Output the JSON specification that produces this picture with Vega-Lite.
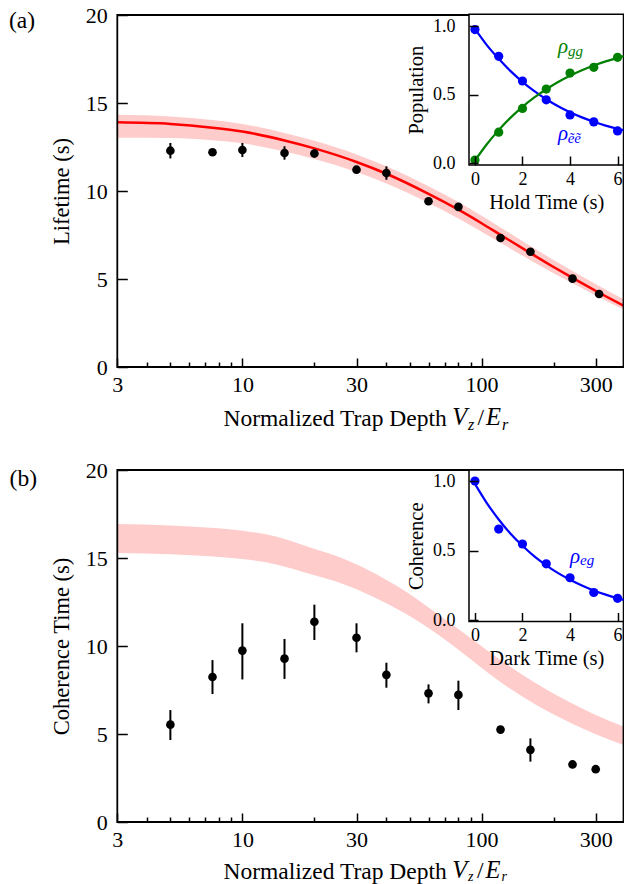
{
  "$schema": "https://vega.github.io/schema/vega-lite/v6.json",
  "width": 624,
  "height": 884,
  "autosize": {"type": "none"},
  "padding": 0,
  "background": "white",
  "config": {
    "view": {"stroke": null},
    "font": "Liberation Serif",
    "axis": {
      "labelFont": "Liberation Serif",
      "titleFont": "Liberation Serif",
      "labelColor": "black",
      "titleColor": "black",
      "tickColor": "black",
      "domainColor": "black",
      "titleFontWeight": "normal",
      "grid": false,
      "tickWidth": 1.5,
      "labelFlush": false,
      "labelOverlap": false,
      "labelBound": false
    },
    "text": {"font": "Liberation Serif", "color": "black"}
  },
  "datasets": {
    "aPts": [
      {"V": 5, "tau": 12.29, "lo": 11.85, "hi": 12.73},
      {"V": 7.5, "tau": 12.2, "lo": 12.05, "hi": 12.35},
      {"V": 10, "tau": 12.33, "lo": 11.93, "hi": 12.73},
      {"V": 15, "tau": 12.16, "lo": 11.78, "hi": 12.54},
      {"V": 20, "tau": 12.13, "lo": 11.9, "hi": 12.36},
      {"V": 30, "tau": 11.21, "lo": 11.07, "hi": 11.35},
      {"V": 40, "tau": 11.02, "lo": 10.64, "hi": 11.4},
      {"V": 60, "tau": 9.42, "lo": 9.3, "hi": 9.54},
      {"V": 80, "tau": 9.1, "lo": 8.98, "hi": 9.22},
      {"V": 120, "tau": 7.33, "lo": 7.21, "hi": 7.45},
      {"V": 160, "tau": 6.55, "lo": 6.43, "hi": 6.67},
      {"V": 240, "tau": 5.02, "lo": 4.92, "hi": 5.12},
      {"V": 310, "tau": 4.15, "lo": 4.05, "hi": 4.25}
    ],
    "aCurve": [
      {"V": 3, "tau": 13.9}, {"V": 5, "tau": 13.81}, {"V": 7.5, "tau": 13.6},
      {"V": 10, "tau": 13.38}, {"V": 15, "tau": 12.87}, {"V": 20, "tau": 12.42},
      {"V": 30, "tau": 11.65}, {"V": 40, "tau": 10.98}, {"V": 60, "tau": 9.84},
      {"V": 80, "tau": 8.94}, {"V": 100, "tau": 8.17}, {"V": 120, "tau": 7.51},
      {"V": 160, "tau": 6.47}, {"V": 200, "tau": 5.68}, {"V": 240, "tau": 5.06},
      {"V": 310, "tau": 4.22}, {"V": 392, "tau": 3.48}
    ],
    "aBand": [
      {"V": 3, "lo": 13.03, "hi": 14.33}, {"V": 5, "lo": 13.01, "hi": 14.24},
      {"V": 7.5, "lo": 12.88, "hi": 14.03}, {"V": 10, "lo": 12.71, "hi": 13.81},
      {"V": 15, "lo": 12.25, "hi": 13.3}, {"V": 20, "lo": 11.82, "hi": 12.85},
      {"V": 30, "lo": 11.08, "hi": 12.08}, {"V": 40, "lo": 10.43, "hi": 11.41},
      {"V": 60, "lo": 9.32, "hi": 10.27}, {"V": 80, "lo": 8.44, "hi": 9.37},
      {"V": 100, "lo": 7.69, "hi": 8.59}, {"V": 120, "lo": 7.06, "hi": 7.93},
      {"V": 160, "lo": 6.07, "hi": 6.88}, {"V": 200, "lo": 5.33, "hi": 6.08},
      {"V": 240, "lo": 4.76, "hi": 5.45}, {"V": 310, "lo": 3.97, "hi": 4.6},
      {"V": 392, "lo": 3.28, "hi": 3.85}
    ],
    "bPts": [
      {"V": 5, "tau": 5.53, "lo": 4.66, "hi": 6.36},
      {"V": 7.5, "tau": 8.24, "lo": 7.27, "hi": 9.2},
      {"V": 10, "tau": 9.74, "lo": 8.1, "hi": 11.29},
      {"V": 15, "tau": 9.28, "lo": 8.13, "hi": 10.4},
      {"V": 20, "tau": 11.38, "lo": 10.34, "hi": 12.35},
      {"V": 30, "tau": 10.47, "lo": 9.64, "hi": 11.29},
      {"V": 40, "tau": 8.36, "lo": 7.63, "hi": 9.05},
      {"V": 60, "tau": 7.31, "lo": 6.74, "hi": 7.82},
      {"V": 80, "tau": 7.22, "lo": 6.36, "hi": 8.03},
      {"V": 120, "tau": 5.25, "lo": 5.1, "hi": 5.4},
      {"V": 160, "tau": 4.1, "lo": 3.43, "hi": 4.75},
      {"V": 240, "tau": 3.27, "lo": 3.15, "hi": 3.4},
      {"V": 300, "tau": 3.0, "lo": 2.9, "hi": 3.1}
    ],
    "bBand": [
      {"V": 3, "lo": 15.29, "hi": 16.93}, {"V": 5, "lo": 15.22, "hi": 16.85},
      {"V": 7.33, "lo": 15.1, "hi": 16.72}, {"V": 10, "lo": 14.94, "hi": 16.55},
      {"V": 13.7, "lo": 14.65, "hi": 16.23}, {"V": 19.2, "lo": 14.09, "hi": 15.6},
      {"V": 26, "lo": 13.55, "hi": 15.0}, {"V": 34.3, "lo": 12.87, "hi": 14.25},
      {"V": 48, "lo": 11.84, "hi": 13.11}, {"V": 65.2, "lo": 10.68, "hi": 11.83},
      {"V": 90, "lo": 9.25, "hi": 10.45}, {"V": 124, "lo": 7.81, "hi": 9.06},
      {"V": 170, "lo": 6.63, "hi": 7.85}, {"V": 236, "lo": 5.63, "hi": 6.77},
      {"V": 300, "lo": 4.99, "hi": 6.08}, {"V": 392, "lo": 4.38, "hi": 5.42}
    ],
    "insA": [
      {"t": 0, "pop": 0.975, "s": "ee"}, {"t": 1, "pop": 0.78, "s": "ee"},
      {"t": 2, "pop": 0.6, "s": "ee"}, {"t": 3, "pop": 0.463, "s": "ee"},
      {"t": 4, "pop": 0.353, "s": "ee"}, {"t": 5, "pop": 0.302, "s": "ee"},
      {"t": 6, "pop": 0.236, "s": "ee"},
      {"t": 0, "pop": 0.024, "s": "gg"}, {"t": 1, "pop": 0.227, "s": "gg"},
      {"t": 2, "pop": 0.4, "s": "gg"}, {"t": 3, "pop": 0.541, "s": "gg"},
      {"t": 4, "pop": 0.658, "s": "gg"}, {"t": 5, "pop": 0.7, "s": "gg"},
      {"t": 6, "pop": 0.773, "s": "gg"}
    ],
    "insACurve": [
      {"t": 0, "pop": 0.98, "s": "ee"}, {"t": 0.5, "pop": 0.862, "s": "ee"},
      {"t": 1, "pop": 0.762, "s": "ee"}, {"t": 1.5, "pop": 0.672, "s": "ee"},
      {"t": 2, "pop": 0.594, "s": "ee"}, {"t": 2.5, "pop": 0.526, "s": "ee"},
      {"t": 3, "pop": 0.467, "s": "ee"}, {"t": 3.5, "pop": 0.416, "s": "ee"},
      {"t": 4, "pop": 0.372, "s": "ee"}, {"t": 4.5, "pop": 0.335, "s": "ee"},
      {"t": 5, "pop": 0.303, "s": "ee"}, {"t": 5.5, "pop": 0.275, "s": "ee"},
      {"t": 6, "pop": 0.251, "s": "ee"}, {"t": 6.25, "pop": 0.241, "s": "ee"},
      {"t": 0, "pop": 0.02, "s": "gg"}, {"t": 0.5, "pop": 0.139, "s": "gg"},
      {"t": 1, "pop": 0.242, "s": "gg"}, {"t": 1.5, "pop": 0.333, "s": "gg"},
      {"t": 2, "pop": 0.412, "s": "gg"}, {"t": 2.5, "pop": 0.48, "s": "gg"},
      {"t": 3, "pop": 0.54, "s": "gg"}, {"t": 3.5, "pop": 0.593, "s": "gg"},
      {"t": 4, "pop": 0.638, "s": "gg"}, {"t": 4.5, "pop": 0.678, "s": "gg"},
      {"t": 5, "pop": 0.713, "s": "gg"}, {"t": 5.5, "pop": 0.743, "s": "gg"},
      {"t": 6, "pop": 0.769, "s": "gg"}, {"t": 6.25, "pop": 0.781, "s": "gg"}
    ],
    "insB": [
      {"t": 0, "coh": 1.0}, {"t": 1, "coh": 0.655}, {"t": 2, "coh": 0.548},
      {"t": 3, "coh": 0.406}, {"t": 4, "coh": 0.306}, {"t": 5, "coh": 0.2},
      {"t": 6, "coh": 0.158}
    ],
    "insBCurve": [
      {"t": 0, "coh": 0.98}, {"t": 0.5, "coh": 0.842}, {"t": 1, "coh": 0.724},
      {"t": 1.5, "coh": 0.622}, {"t": 2, "coh": 0.535}, {"t": 2.5, "coh": 0.459},
      {"t": 3, "coh": 0.395}, {"t": 3.5, "coh": 0.339}, {"t": 4, "coh": 0.292},
      {"t": 4.5, "coh": 0.251}, {"t": 5, "coh": 0.215}, {"t": 5.5, "coh": 0.185},
      {"t": 6, "coh": 0.159}, {"t": 6.25, "coh": 0.147}
    ],
    "one": [{"k": 1}]
  },
  "layer": [
    {
      "layer": [
        {
          "data": {"name": "aBand"},
          "mark": {"type": "area", "color": "#ffcccc", "interpolate": "monotone"},
          "encoding": {
            "x": {"field": "V", "type": "quantitative",
              "scale": {"type": "log", "domain": [3, 392], "range": [117.3, 623.5], "nice": false},
              "axis": {"orient": "bottom", "offset": -517, "values": [3, 10, 30, 100, 300], "format": "d",
                "tickSize": -9, "labelPadding": 16, "domain": false, "labelFontSize": 22,
                "title": "Normalized Trap Depth", "titleFontSize": 23.5, "titleX": 223, "titleY": 58,
                "titleAlign": "left", "titleBaseline": "alphabetic", "titleAnchor": "start"}},
            "y": {"field": "lo", "type": "quantitative",
              "scale": {"domain": [0, 20], "range": [367, 15], "nice": false, "zero": false},
              "axis": {"orient": "left", "offset": -117.3, "values": [0, 5, 10, 15, 20],
                "tickSize": -10, "labelPadding": 20, "domain": false, "labelFontSize": 22,
                "title": "Lifetime (s)", "titleFontSize": 22.5, "titlePadding": 12}},
            "y2": {"field": "hi"}
          }
        },
        {
          "data": {"name": "aCurve"},
          "mark": {"type": "line", "color": "#ff0000", "strokeWidth": 2.5, "interpolate": "monotone"},
          "encoding": {
            "x": {"field": "V", "type": "quantitative"},
            "y": {"field": "tau", "type": "quantitative"}
          }
        },
        {
          "data": {"name": "aPts"},
          "mark": {"type": "rule", "color": "black", "strokeWidth": 2},
          "encoding": {
            "x": {"field": "V", "type": "quantitative"},
            "y": {"field": "lo", "type": "quantitative"},
            "y2": {"field": "hi"}
          }
        },
        {
          "data": {"name": "aPts"},
          "mark": {"type": "point", "filled": true, "color": "black", "opacity": 1, "size": 75},
          "encoding": {
            "x": {"field": "V", "type": "quantitative"},
            "y": {"field": "tau", "type": "quantitative"}
          }
        }
      ]
    },
    {
      "data": {"name": "one"},
      "layer": [
        {
          "mark": {"type": "rect", "fillOpacity": 0, "stroke": "black", "strokeWidth": 1.8},
          "encoding": {
            "x": {"datum": 3, "type": "quantitative",
              "scale": {"type": "log", "domain": [3, 392], "range": [117.3, 623.5], "nice": false},
              "axis": {"orient": "bottom", "offset": -517, "values": [4, 5, 6, 7, 8, 9, 20, 40, 50, 60, 70, 80, 90, 200],
                "tickSize": -5, "labels": false, "domain": false, "title": null}},
            "x2": {"datum": 392},
            "y": {"datum": 0, "type": "quantitative",
              "scale": {"domain": [0, 20], "range": [367, 15], "nice": false, "zero": false}, "axis": null},
            "y2": {"datum": 20}
          }
        },
        {
          "mark": {"type": "text", "text": "(a)", "fontSize": 23.5, "align": "center", "baseline": "alphabetic", "dx": -95.3, "dy": 13},
          "encoding": {"x": {"datum": 3, "type": "quantitative"}, "y": {"datum": 20, "type": "quantitative"}}
        },
        {
          "mark": {"type": "text", "text": "V", "fontSize": 24.5, "fontStyle": "italic", "align": "left", "baseline": "alphabetic", "dx": 335, "dy": 58},
          "encoding": {"x": {"datum": 3, "type": "quantitative"}, "y": {"datum": 0, "type": "quantitative"}}
        },
        {
          "mark": {"type": "text", "text": "z", "fontSize": 16, "fontStyle": "italic", "align": "left", "baseline": "alphabetic", "dx": 350.7, "dy": 62.5},
          "encoding": {"x": {"datum": 3, "type": "quantitative"}, "y": {"datum": 0, "type": "quantitative"}}
        },
        {
          "mark": {"type": "text", "text": "/", "fontSize": 23.5, "align": "left", "baseline": "alphabetic", "dx": 360.2, "dy": 58},
          "encoding": {"x": {"datum": 3, "type": "quantitative"}, "y": {"datum": 0, "type": "quantitative"}}
        },
        {
          "mark": {"type": "text", "text": "E", "fontSize": 24.5, "fontStyle": "italic", "align": "left", "baseline": "alphabetic", "dx": 368.7, "dy": 58},
          "encoding": {"x": {"datum": 3, "type": "quantitative"}, "y": {"datum": 0, "type": "quantitative"}}
        },
        {
          "mark": {"type": "text", "text": "r", "fontSize": 16, "fontStyle": "italic", "align": "left", "baseline": "alphabetic", "dx": 384.7, "dy": 62.5},
          "encoding": {"x": {"datum": 3, "type": "quantitative"}, "y": {"datum": 0, "type": "quantitative"}}
        }
      ]
    },
    {
      "layer": [
        {
          "data": {"name": "bBand"},
          "mark": {"type": "area", "color": "#ffcccc", "interpolate": "monotone"},
          "encoding": {
            "x": {"field": "V", "type": "quantitative",
              "scale": {"type": "log", "domain": [3, 392], "range": [117.3, 623.5], "nice": false},
              "axis": {"orient": "bottom", "offset": -62, "values": [3, 10, 30, 100, 300], "format": "d",
                "tickSize": -9, "labelPadding": 16, "domain": false, "labelFontSize": 22,
                "title": "Normalized Trap Depth", "titleFontSize": 23.5, "titleX": 223, "titleY": 56,
                "titleAlign": "left", "titleBaseline": "alphabetic", "titleAnchor": "start"}},
            "y": {"field": "lo", "type": "quantitative",
              "scale": {"domain": [0, 20], "range": [822, 470], "nice": false, "zero": false},
              "axis": {"orient": "left", "offset": -117.3, "values": [0, 5, 10, 15, 20],
                "tickSize": -10, "labelPadding": 20, "domain": false, "labelFontSize": 22,
                "title": "Coherence Time (s)", "titleFontSize": 22.5, "titlePadding": 12}},
            "y2": {"field": "hi"}
          }
        },
        {
          "data": {"name": "bPts"},
          "mark": {"type": "rule", "color": "black", "strokeWidth": 2},
          "encoding": {
            "x": {"field": "V", "type": "quantitative"},
            "y": {"field": "lo", "type": "quantitative"},
            "y2": {"field": "hi"}
          }
        },
        {
          "data": {"name": "bPts"},
          "mark": {"type": "point", "filled": true, "color": "black", "opacity": 1, "size": 75},
          "encoding": {
            "x": {"field": "V", "type": "quantitative"},
            "y": {"field": "tau", "type": "quantitative"}
          }
        }
      ]
    },
    {
      "data": {"name": "one"},
      "layer": [
        {
          "mark": {"type": "rect", "fillOpacity": 0, "stroke": "black", "strokeWidth": 1.8},
          "encoding": {
            "x": {"datum": 3, "type": "quantitative",
              "scale": {"type": "log", "domain": [3, 392], "range": [117.3, 623.5], "nice": false},
              "axis": {"orient": "bottom", "offset": -62, "values": [4, 5, 6, 7, 8, 9, 20, 40, 50, 60, 70, 80, 90, 200],
                "tickSize": -5, "labels": false, "domain": false, "title": null}},
            "x2": {"datum": 392},
            "y": {"datum": 0, "type": "quantitative",
              "scale": {"domain": [0, 20], "range": [822, 470], "nice": false, "zero": false}, "axis": null},
            "y2": {"datum": 20}
          }
        },
        {
          "mark": {"type": "text", "text": "(b)", "fontSize": 23.5, "align": "center", "baseline": "alphabetic", "dx": -94, "dy": 15.5},
          "encoding": {"x": {"datum": 3, "type": "quantitative"}, "y": {"datum": 20, "type": "quantitative"}}
        },
        {
          "mark": {"type": "text", "text": "V", "fontSize": 24.5, "fontStyle": "italic", "align": "left", "baseline": "alphabetic", "dx": 335, "dy": 56},
          "encoding": {"x": {"datum": 3, "type": "quantitative"}, "y": {"datum": 0, "type": "quantitative"}}
        },
        {
          "mark": {"type": "text", "text": "z", "fontSize": 14, "fontStyle": "italic", "align": "left", "baseline": "alphabetic", "dx": 350.7, "dy": 58.5},
          "encoding": {"x": {"datum": 3, "type": "quantitative"}, "y": {"datum": 0, "type": "quantitative"}}
        },
        {
          "mark": {"type": "text", "text": "/", "fontSize": 23.5, "align": "left", "baseline": "alphabetic", "dx": 359.7, "dy": 56},
          "encoding": {"x": {"datum": 3, "type": "quantitative"}, "y": {"datum": 0, "type": "quantitative"}}
        },
        {
          "mark": {"type": "text", "text": "E", "fontSize": 24.5, "fontStyle": "italic", "align": "left", "baseline": "alphabetic", "dx": 368.2, "dy": 56},
          "encoding": {"x": {"datum": 3, "type": "quantitative"}, "y": {"datum": 0, "type": "quantitative"}}
        },
        {
          "mark": {"type": "text", "text": "r", "fontSize": 14, "fontStyle": "italic", "align": "left", "baseline": "alphabetic", "dx": 384.2, "dy": 58.5},
          "encoding": {"x": {"datum": 3, "type": "quantitative"}, "y": {"datum": 0, "type": "quantitative"}}
        }
      ]
    },
    {
      "layer": [
        {
          "data": {"name": "one"},
          "mark": {"type": "rect", "fill": "white", "stroke": "black", "strokeWidth": 1.5},
          "encoding": {
            "x": {"datum": -0.25, "type": "quantitative",
              "scale": {"domain": [-0.25, 6.25], "range": [469, 623.5], "nice": false, "zero": false},
              "axis": {"orient": "bottom", "offset": -719, "values": [0, 2, 4, 6], "format": "d", "tickSize": -9,
                "labelPadding": 14, "domain": false, "labelFontSize": 18, "zindex": 1,
                "title": "Hold Time (s)", "titleFontSize": 20.5, "titlePadding": 4}},
            "x2": {"datum": 6.25},
            "y": {"datum": -0.0124, "type": "quantitative",
              "scale": {"domain": [-0.0124, 1.0864], "range": [165, 14.3], "nice": false, "zero": false},
              "axis": {"orient": "left", "offset": -469, "values": [0, 0.5, 1], "format": ".1f", "tickSize": -9,
                "labelPadding": 23, "domain": false, "labelFontSize": 18, "zindex": 1,
                "title": "Population", "titleFontSize": 20.5, "titlePadding": 6}},
            "y2": {"datum": 1.0864}
          }
        },
        {
          "data": {"name": "insACurve"},
          "mark": {"type": "line", "strokeWidth": 2.2, "interpolate": "monotone"},
          "encoding": {
            "x": {"field": "t", "type": "quantitative"},
            "y": {"field": "pop", "type": "quantitative"},
            "color": {"field": "s", "type": "nominal", "scale": {"domain": ["gg", "ee"], "range": ["#008000", "#0000ff"]}, "legend": null}
          }
        },
        {
          "data": {"name": "insA"},
          "mark": {"type": "point", "filled": true, "opacity": 1, "size": 85},
          "encoding": {
            "x": {"field": "t", "type": "quantitative"},
            "y": {"field": "pop", "type": "quantitative"},
            "color": {"field": "s", "type": "nominal", "scale": {"domain": ["gg", "ee"], "range": ["#008000", "#0000ff"]}, "legend": null}
          }
        },
        {
          "data": {"name": "one"},
          "mark": {"type": "text", "text": "ρ", "fontSize": 21, "fontStyle": "italic", "color": "#008000", "align": "left", "baseline": "alphabetic"},
          "encoding": {"x": {"datum": 3.49, "type": "quantitative"}, "y": {"datum": 0.807, "type": "quantitative"}}
        },
        {
          "data": {"name": "one"},
          "mark": {"type": "text", "text": "gg", "fontSize": 15, "fontStyle": "italic", "color": "#008000", "align": "left", "baseline": "alphabetic"},
          "encoding": {"x": {"datum": 3.92, "type": "quantitative"}, "y": {"datum": 0.785, "type": "quantitative"}}
        },
        {
          "data": {"name": "one"},
          "mark": {"type": "text", "text": "ρ", "fontSize": 21, "fontStyle": "italic", "color": "#0000ff", "align": "left", "baseline": "alphabetic"},
          "encoding": {"x": {"datum": 3.49, "type": "quantitative"}, "y": {"datum": 0.171, "type": "quantitative"}}
        },
        {
          "data": {"name": "one"},
          "mark": {"type": "text", "text": "ẽẽ", "fontSize": 15, "fontStyle": "italic", "color": "#0000ff", "align": "left", "baseline": "alphabetic"},
          "encoding": {"x": {"datum": 3.9, "type": "quantitative"}, "y": {"datum": 0.145, "type": "quantitative"}}
        }
      ]
    },
    {
      "layer": [
        {
          "data": {"name": "one"},
          "mark": {"type": "rect", "fill": "white", "stroke": "black", "strokeWidth": 1.5},
          "encoding": {
            "x": {"datum": -0.25, "type": "quantitative",
              "scale": {"domain": [-0.25, 6.25], "range": [469, 623.5], "nice": false, "zero": false},
              "axis": {"orient": "bottom", "offset": -262.5, "values": [0, 2, 4, 6], "format": "d", "tickSize": -9,
                "labelPadding": 14, "domain": false, "labelFontSize": 18, "zindex": 1,
                "title": "Dark Time (s)", "titleFontSize": 20.5, "titlePadding": 4}},
            "x2": {"datum": 6.25},
            "y": {"datum": -0.008, "type": "quantitative",
              "scale": {"domain": [-0.008, 1.079], "range": [621.5, 470], "nice": false, "zero": false},
              "axis": {"orient": "left", "offset": -469, "values": [0, 0.5, 1], "format": ".1f", "tickSize": -9,
                "labelPadding": 23, "domain": false, "labelFontSize": 18, "zindex": 1,
                "title": "Coherence", "titleFontSize": 20.5, "titlePadding": 6}},
            "y2": {"datum": 1.079}
          }
        },
        {
          "data": {"name": "insBCurve"},
          "mark": {"type": "line", "strokeWidth": 2.2, "color": "#0000ff", "interpolate": "monotone"},
          "encoding": {
            "x": {"field": "t", "type": "quantitative"},
            "y": {"field": "coh", "type": "quantitative"}
          }
        },
        {
          "data": {"name": "insB"},
          "mark": {"type": "point", "filled": true, "opacity": 1, "size": 85, "color": "#0000ff"},
          "encoding": {
            "x": {"field": "t", "type": "quantitative"},
            "y": {"field": "coh", "type": "quantitative"}
          }
        },
        {
          "data": {"name": "one"},
          "mark": {"type": "text", "text": "ρ", "fontSize": 21, "fontStyle": "italic", "color": "#0000ff", "align": "left", "baseline": "alphabetic"},
          "encoding": {"x": {"datum": 4.0, "type": "quantitative"}, "y": {"datum": 0.412, "type": "quantitative"}}
        },
        {
          "data": {"name": "one"},
          "mark": {"type": "text", "text": "eg", "fontSize": 15, "fontStyle": "italic", "color": "#0000ff", "align": "left", "baseline": "alphabetic"},
          "encoding": {"x": {"datum": 4.42, "type": "quantitative"}, "y": {"datum": 0.397, "type": "quantitative"}}
        }
      ]
    }
  ],
  "resolve": {
    "scale": {"x": "independent", "y": "independent", "color": "independent"},
    "axis": {"x": "independent", "y": "independent"}
  }
}
